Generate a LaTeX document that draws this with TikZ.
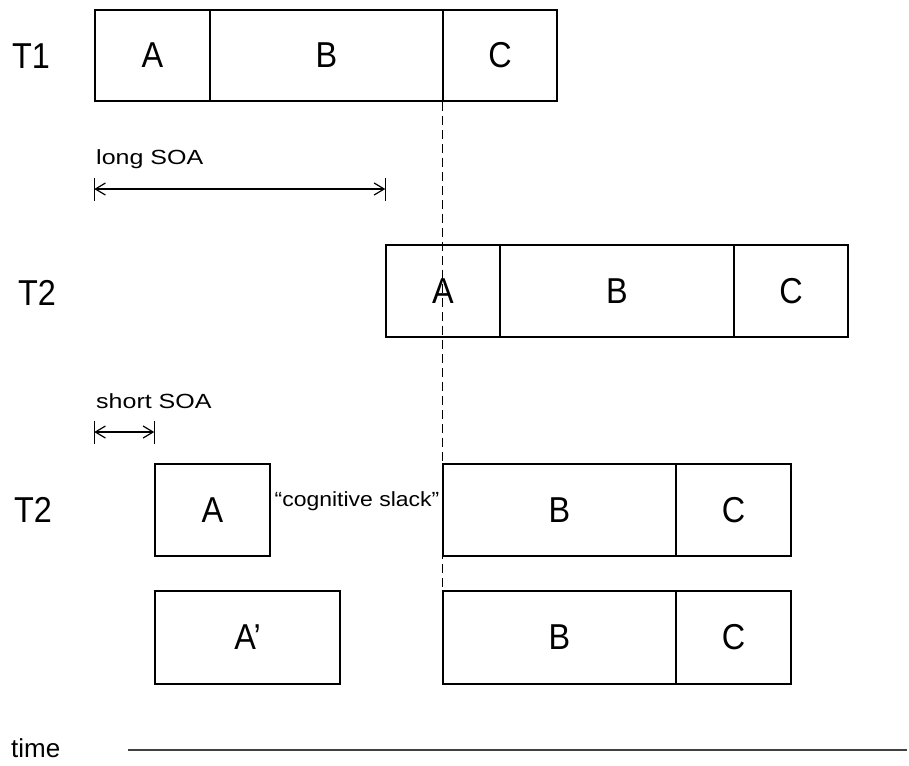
\documentclass[tikz,border=0pt]{standalone}
\usepackage{fontspec}
\setmainfont{Liberation Sans}
\newfontfamily\bigfont[FakeStretch=0.9]{Liberation Sans}
\newfontfamily\soafont[FakeStretch=1.22]{Liberation Sans}
\newfontfamily\slackfont[FakeStretch=1.12]{Liberation Sans}
\usetikzlibrary{arrows.meta}
\tikzset{
  seg/.style={draw, line width=1.5pt, inner sep=0pt, font=\bigfont\fontsize{36}{36}\selectfont},
  lbl/.style={inner sep=0pt, font=\bigfont\fontsize{36}{36}\selectfont},
  small/.style={inner sep=0pt, font=\soafont\fontsize{20.5}{20.5}\selectfont},
  soa/.style={line width=1.2pt, {Straight Barb[length=10pt,width=12pt]}-{Straight Barb[length=10pt,width=12pt]}},
  barline/.style={line width=1.3pt},
}
\begin{document}
\begin{tikzpicture}[x=1pt,y=-1pt]
\useasboundingbox (0,0) rectangle (909,765);

% task 1
\node[lbl] (l1) at (31,56) {T1};
\node[seg, minimum width=115pt, minimum height=91pt] (t1a) at (152.5,55.5) {A};
\node[seg, minimum width=233pt, minimum height=91pt] (t1b) at (326.5,55.5) {B};
\node[seg, minimum width=114pt, minimum height=91pt] (t1c) at (500,55.5) {C};

% task 2, long SOA
\node[lbl] (l2) at (37,293) {T2};
\node[seg, minimum width=114pt, minimum height=92pt] (t2a) at (443,291) {A};
\node[seg, minimum width=234pt, minimum height=92pt] (t2b) at (617,291) {B};
\node[seg, minimum width=114pt, minimum height=92pt] (t2c) at (791,291) {C};

% task 2, short SOA
\node[lbl] (l3) at (33,510) {T2};
\node[seg, minimum width=115pt, minimum height=92pt] (s1a) at (212.5,510) {A};
\node[seg, minimum width=233pt, minimum height=92pt] (s1b) at (559.5,510) {B};
\node[seg, minimum width=115pt, minimum height=92pt] (s1c) at (733.5,510) {C};
\node[inner sep=0pt, font=\slackfont\fontsize{20.5}{20.5}\selectfont] (slack) at (357,501) {“cognitive slack”};

% task 2, short SOA with longer first stage
\node[seg, minimum width=185pt, minimum height=93pt] (s2a) at (247.5,637.5) {A’};
\node[seg, minimum width=233pt, minimum height=93pt] (s2b) at (559.5,637.5) {B};
\node[seg, minimum width=115pt, minimum height=93pt] (s2c) at (733.5,637.5) {C};

% end of stage B of task 1
\draw[line width=0.9pt, dash pattern=on 9pt off 5pt] (t1c.south west) -- (s2b.north west);

% SOA markers
\node[small, anchor=west] (long) at (96,159) {long SOA};
\coordinate (la) at (t1a.west |- 0,189);
\coordinate (lb) at (t2a.west |- 0,189);
\draw[soa] (la) -- (lb);
\draw[barline] ([yshift=-12pt]la) -- ([yshift=11pt]la);
\draw[barline] ([yshift=-12pt]lb) -- ([yshift=11pt]lb);

\node[small, anchor=west] (short) at (96,401) {short SOA};
\coordinate (sa) at (t1a.west |- 0,432);
\coordinate (sb) at (s1a.west |- 0,432);
\draw[soa] (sa) -- (sb);
\draw[barline] ([yshift=-12pt]sa) -- ([yshift=11pt]sa);
\draw[barline] ([yshift=-12pt]sb) -- ([yshift=11pt]sb);

% time axis
\node[inner sep=0pt, anchor=west, font=\fontsize{26}{26}\selectfont] (time) at (11,748) {time};
\coordinate (t0) at (128,750);
\coordinate (t1) at (907,750);
\draw[line width=1.2pt, black!75] (t0) -- (t1);
\end{tikzpicture}
\end{document}
